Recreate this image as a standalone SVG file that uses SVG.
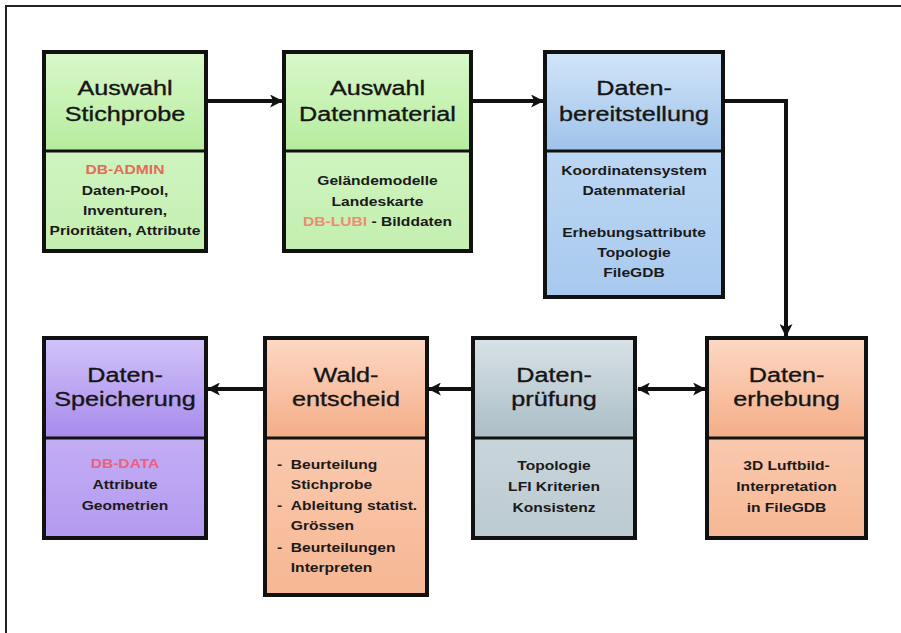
<svg xmlns="http://www.w3.org/2000/svg" width="901" height="633" viewBox="0 0 901 633">
<defs>
  <linearGradient id="gH" x1="0" y1="0" x2="0" y2="1"><stop offset="0" stop-color="#d8f8ca"/><stop offset="1" stop-color="#b6ec9e"/></linearGradient>
  <linearGradient id="gB" x1="0" y1="0" x2="0" y2="1"><stop offset="0" stop-color="#cff4bf"/><stop offset="1" stop-color="#c4efb0"/></linearGradient>
  <linearGradient id="bH" x1="0" y1="0" x2="0" y2="1"><stop offset="0" stop-color="#d2e5f9"/><stop offset="1" stop-color="#9fc2ea"/></linearGradient>
  <linearGradient id="bB" x1="0" y1="0" x2="0" y2="1"><stop offset="0" stop-color="#bcd7f3"/><stop offset="1" stop-color="#a8c9ee"/></linearGradient>
  <linearGradient id="pH" x1="0" y1="0" x2="0" y2="1"><stop offset="0" stop-color="#d2c3fa"/><stop offset="1" stop-color="#a78bec"/></linearGradient>
  <linearGradient id="pB" x1="0" y1="0" x2="0" y2="1"><stop offset="0" stop-color="#c2adf5"/><stop offset="1" stop-color="#b49af0"/></linearGradient>
  <linearGradient id="oH" x1="0" y1="0" x2="0" y2="1"><stop offset="0" stop-color="#fdd8c3"/><stop offset="1" stop-color="#f4ad88"/></linearGradient>
  <linearGradient id="oB" x1="0" y1="0" x2="0" y2="1"><stop offset="0" stop-color="#fac9ae"/><stop offset="1" stop-color="#f6b794"/></linearGradient>
  <linearGradient id="sH" x1="0" y1="0" x2="0" y2="1"><stop offset="0" stop-color="#d8e2e7"/><stop offset="1" stop-color="#abbdc6"/></linearGradient>
  <linearGradient id="sB" x1="0" y1="0" x2="0" y2="1"><stop offset="0" stop-color="#c8d5db"/><stop offset="1" stop-color="#bccad1"/></linearGradient>
  <marker id="ah" viewBox="0 0 12 12" refX="11" refY="6" markerWidth="13" markerHeight="13" markerUnits="userSpaceOnUse" orient="auto-start-reverse">
    <path d="M0,0 L12,6 L0,12 L3,6 z" fill="#111"/>
  </marker>
</defs>
<style>
  .frame{stroke:#222;stroke-width:2;fill:none}
  .box{stroke:#111;stroke-width:4;fill:none}
  .div{stroke:#111;stroke-width:3}
  .h{font-family:"Liberation Sans",Arial,sans-serif;font-size:21px;fill:#151515;stroke:#151515;stroke-width:0.35;text-anchor:middle}
  .b{font-family:"Liberation Sans",Arial,sans-serif;font-size:13px;font-weight:bold;fill:#1a1a1a;text-anchor:middle}
  .l{text-anchor:start}
  .r1{fill:#e46a5a}
  .r2{fill:#ee8c72}
  .r3{fill:#ec5f7e}
  .conn{stroke:#111;stroke-width:4;fill:none}
</style>
<rect width="901" height="633" fill="#ffffff"/>
<path class="frame" d="M6,633 V6 H901"/>

<g id="connectors">
  <path class="conn" d="M206,101 H282" marker-end="url(#ah)"/>
  <path class="conn" d="M471,101 H543" marker-end="url(#ah)"/>
  <path class="conn" d="M723,101 H786 V336" marker-end="url(#ah)"/>
  <path class="conn" d="M473,389 H429" marker-end="url(#ah)"/>
  <path class="conn" d="M265,389 H208" marker-end="url(#ah)"/>
  <path class="conn" d="M638,389 H705" marker-start="url(#ah)" marker-end="url(#ah)"/>
</g>

<g id="auswahl-stichprobe">
  <rect x="44" y="52" width="162" height="99" fill="url(#gH)"/>
  <rect x="44" y="151" width="162" height="100" fill="url(#gB)"/>
  <rect class="box" x="44" y="52" width="162" height="199"/>
  <line class="div" x1="44" y1="151" x2="206" y2="151"/>
  <g transform="translate(125 0) scale(1.2 1)">
    <text class="h" y="95">Auswahl</text>
    <text class="h" y="121">Stichprobe</text>
    <text class="b r1" y="174">DB-ADMIN</text>
    <text class="b" y="195">Daten-Pool,</text>
    <text class="b" y="215">Inventuren,</text>
    <text class="b" y="235">Prioritäten, Attribute</text>
  </g>
</g>

<g id="auswahl-datenmaterial">
  <rect x="284" y="52" width="187" height="99" fill="url(#gH)"/>
  <rect x="284" y="151" width="187" height="100" fill="url(#gB)"/>
  <rect class="box" x="284" y="52" width="187" height="199"/>
  <line class="div" x1="284" y1="151" x2="471" y2="151"/>
  <g transform="translate(377.5 0) scale(1.2 1)">
    <text class="h" y="95">Auswahl</text>
    <text class="h" y="121">Datenmaterial</text>
    <text class="b" y="185">Geländemodelle</text>
    <text class="b" y="206">Landeskarte</text>
    <text class="b" y="226"><tspan class="r2">DB-LUBI</tspan> - Bilddaten</text>
  </g>
</g>

<g id="datenbereitstellung">
  <rect x="545" y="52" width="178" height="99" fill="url(#bH)"/>
  <rect x="545" y="151" width="178" height="146" fill="url(#bB)"/>
  <rect class="box" x="545" y="52" width="178" height="245"/>
  <line class="div" x1="545" y1="151" x2="723" y2="151"/>
  <g transform="translate(634 0) scale(1.2 1)">
    <text class="h" y="95">Daten-</text>
    <text class="h" y="121">bereitstellung</text>
    <text class="b" y="175">Koordinatensystem</text>
    <text class="b" y="195">Datenmaterial</text>
    <text class="b" y="237">Erhebungsattribute</text>
    <text class="b" y="257">Topologie</text>
    <text class="b" y="277">FileGDB</text>
  </g>
</g>

<g id="datenspeicherung">
  <rect x="44" y="338" width="162" height="100" fill="url(#pH)"/>
  <rect x="44" y="438" width="162" height="100" fill="url(#pB)"/>
  <rect class="box" x="44" y="338" width="162" height="200"/>
  <line class="div" x1="44" y1="438" x2="206" y2="438"/>
  <g transform="translate(125 0) scale(1.2 1)">
    <text class="h" y="382">Daten-</text>
    <text class="h" y="406">Speicherung</text>
    <text class="b r3" y="468">DB-DATA</text>
    <text class="b" y="489">Attribute</text>
    <text class="b" y="510">Geometrien</text>
  </g>
</g>

<g id="waldentscheid">
  <rect x="265" y="338" width="162" height="100" fill="url(#oH)"/>
  <rect x="265" y="438" width="162" height="157" fill="url(#oB)"/>
  <rect class="box" x="265" y="338" width="162" height="257"/>
  <line class="div" x1="265" y1="438" x2="427" y2="438"/>
  <g transform="translate(346 0) scale(1.2 1)">
    <text class="h" y="382">Wald-</text>
    <text class="h" y="406">entscheid</text>
  </g>
  <g transform="translate(277 0) scale(1.2 1)">
    <text class="b l" x="0" y="469">-</text>
    <text class="b l" x="11.5" y="469">Beurteilung</text>
    <text class="b l" x="11.5" y="489">Stichprobe</text>
    <text class="b l" x="0" y="510">-</text>
    <text class="b l" x="11.5" y="510">Ableitung statist.</text>
    <text class="b l" x="11.5" y="530">Grössen</text>
    <text class="b l" x="0" y="552">-</text>
    <text class="b l" x="11.5" y="552">Beurteilungen</text>
    <text class="b l" x="11.5" y="572">Interpreten</text>
  </g>
</g>

<g id="datenpruefung">
  <rect x="473" y="338" width="162" height="100" fill="url(#sH)"/>
  <rect x="473" y="438" width="162" height="100" fill="url(#sB)"/>
  <rect class="box" x="473" y="338" width="162" height="200"/>
  <line class="div" x1="473" y1="438" x2="635" y2="438"/>
  <g transform="translate(554 0) scale(1.2 1)">
    <text class="h" y="382">Daten-</text>
    <text class="h" y="406">prüfung</text>
    <text class="b" y="470">Topologie</text>
    <text class="b" y="491">LFI Kriterien</text>
    <text class="b" y="512">Konsistenz</text>
  </g>
</g>

<g id="datenerhebung">
  <rect x="707" y="338" width="159" height="100" fill="url(#oH)"/>
  <rect x="707" y="438" width="159" height="100" fill="url(#oB)"/>
  <rect class="box" x="707" y="338" width="159" height="200"/>
  <line class="div" x1="707" y1="438" x2="866" y2="438"/>
  <g transform="translate(786.5 0) scale(1.2 1)">
    <text class="h" y="382">Daten-</text>
    <text class="h" y="406">erhebung</text>
    <text class="b" y="470">3D Luftbild-</text>
    <text class="b" y="491">Interpretation</text>
    <text class="b" y="512">in FileGDB</text>
  </g>
</g>
</svg>
